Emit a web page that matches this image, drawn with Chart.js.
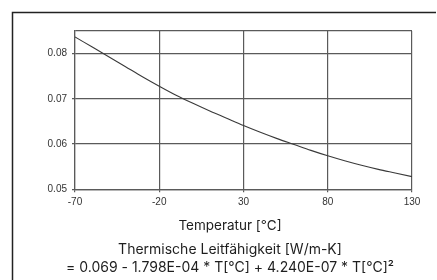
<!DOCTYPE html>
<html>
<head>
<meta charset="utf-8">
<script src="https://cdn.jsdelivr.net/npm/chart.js@4"></script>
<style>
  html, body { margin: 0; padding: 0; background: #fff; }
  canvas { display: block; }
</style>
</head>
<body>
<canvas id="chart" width="437" height="280"></canvas>
<script>
// Werte
const temps = [-70, -60, -50, -40, -30, -20, -10, 0, 10, 20, 30, 40, 50, 60, 70, 80, 90, 100, 110, 120, 130];
const conductivity = [0.0837, 0.0815, 0.0793, 0.0771, 0.0749, 0.0728, 0.0708, 0.0690, 0.0673, 0.0657,
                      0.0641, 0.0626, 0.0612, 0.0599, 0.0586, 0.0574, 0.0563, 0.0553, 0.0544, 0.0536, 0.0528];
const xTicks = [-70, -20, 30, 80, 130];
const yTicks = [0.05, 0.06, 0.07, 0.08];
const yMax = 0.085;
const xLabel = 'Temperatur [°C]';
const titleLines = ['Thermische Leitfähigkeit [W/m-K]', '= 0.069 - 1.798E-04 * T[°C] + 4.240E-07 * T[°C]²'];

const gridColor = '#5a5a5a';
const textFont = 'Inter, "Liberation Sans", Arial, sans-serif';
const tickFont = '"Liberation Sans", Arial, sans-serif';

// Rahmen (nur oben und links sichtbar)
const frame = {
    id: 'frame',
    beforeDraw(chart) {
        const ctx = chart.ctx;
        ctx.save();
        ctx.strokeStyle = '#222';
        ctx.lineWidth = 1.5;
        ctx.beginPath();
        ctx.moveTo(12.5, 280);
        ctx.lineTo(12.5, 12.5);
        ctx.lineTo(436, 12.5);
        ctx.stroke();
        ctx.restore();
    }
};

new Chart(document.getElementById('chart'), {
    type: 'line',
    data: {
        datasets: [{
            data: temps.map((t, i) => ({ x: t, y: conductivity[i] })),
            borderColor: '#3a3a3a',
            borderWidth: 1.1,
            pointRadius: 0,
            cubicInterpolationMode: 'monotone',
            fill: false
        }]
    },
    options: {
        responsive: false,
        animation: false,
        devicePixelRatio: 1,
        layout: { padding: { top: 31, right: 1, left: 24, bottom: 0 } },
        plugins: {
            legend: { display: false },
            tooltip: { enabled: false },
            title: {
                display: true,
                position: 'bottom',
                text: titleLines,
                color: '#1e1e1e',
                font: { family: textFont, size: 14, weight: 'normal', lineHeight: 1.3 },
                padding: { top: 0, bottom: 3 }
            },
            subtitle: {
                display: true,
                position: 'bottom',
                text: xLabel,
                color: '#1e1e1e',
                font: { family: textFont, size: 13.5, weight: 'normal', lineHeight: 1.1 },
                padding: { top: 0, bottom: 7 }
            }
        },
        scales: {
            x: {
                type: 'linear',
                min: xTicks[0],
                max: xTicks[xTicks.length - 1],
                afterBuildTicks: s => { s.ticks = xTicks.map(v => ({ value: v })); },
                afterFit: s => { s.height = 29.5; },
                grid: { color: gridColor, lineWidth: 1.2, tickLength: 3, tickColor: gridColor },
                border: { color: gridColor, width: 1.2 },
                ticks: { color: '#333', padding: 4, maxRotation: 0, font: { family: tickFont, size: 10 } }
            },
            y: {
                min: yTicks[0],
                max: yMax,
                afterBuildTicks: s => { s.ticks = yTicks.concat([yMax]).map(v => ({ value: v })); },
                afterFit: s => { s.width = 51; },
                grid: {
                    color: gridColor, lineWidth: 1.2, tickLength: 3,
                    tickColor: c => (c.tick && c.tick.value === yMax) ? 'rgba(0,0,0,0)' : gridColor
                },
                border: { color: gridColor, width: 1.2 },
                ticks: {
                    color: '#333', padding: 5,
                    font: { family: tickFont, size: 10 },
                    callback: v => v === yMax ? '' : v.toFixed(2)
                }
            },
            // leere rechte Achse, damit die Texte mittig zum Rahmen stehen
            yRight: {
                position: 'right',
                afterFit: s => { s.width = 24; },
                grid: { display: false },
                border: { display: false },
                ticks: { display: false }
            }
        }
    },
    plugins: [frame]
});
</script>
</body>
</html>
